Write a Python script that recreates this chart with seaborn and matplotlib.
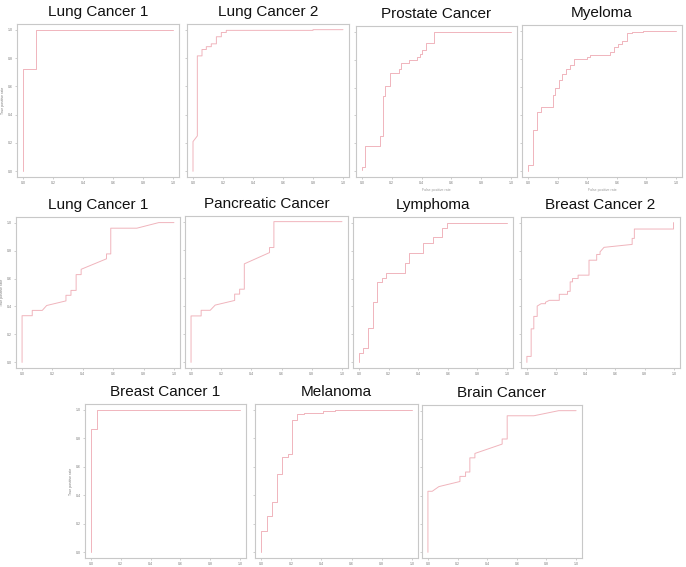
import matplotlib
matplotlib.use("Agg")
from matplotlib import pyplot as plt
import seaborn as sns
import pandas as pd

# ROC curve vertices (false positive rate, true positive rate)
titles = ["Lung Cancer 1", "Lung Cancer 2", "Prostate Cancer", "Myeloma",
          "Lung Cancer 1", "Pancreatic Cancer", "Lymphoma", "Breast Cancer 2",
          "Breast Cancer 1", "Melanoma", "Brain Cancer"]

lung1_fpr = [0, 0, 0.087, 0.087, 1]
lung1_tpr = [0, 0.72, 0.72, 1.0, 1.0]

lung2_fpr = [0, 0, 0.029, 0.029, 0.06, 0.06, 0.089, 0.089, 0.122, 0.122, 0.156, 0.156,
             0.189, 0.189, 0.222, 0.222, 0.8, 0.8, 1]
lung2_tpr = [0, 0.21, 0.25, 0.815, 0.815, 0.86, 0.86, 0.88, 0.88, 0.90, 0.90, 0.95,
             0.95, 0.98, 0.98, 0.995, 0.995, 1.0, 1.0]

prostate_fpr = [0, 0, 0.022, 0.022, 0.124, 0.124, 0.139, 0.139, 0.157, 0.157, 0.191, 0.191,
                0.247, 0.247, 0.265, 0.265, 0.315, 0.315, 0.371, 0.371, 0.387, 0.387,
                0.404, 0.404, 0.427, 0.427, 0.483, 0.483, 1]
prostate_tpr = [0.012, 0.031, 0.031, 0.185, 0.185, 0.252, 0.252, 0.54, 0.54, 0.61, 0.61, 0.707,
                0.707, 0.73, 0.73, 0.775, 0.775, 0.796, 0.796, 0.815, 0.815, 0.839,
                0.839, 0.868, 0.868, 0.916, 0.916, 1.0, 1.0]

myeloma_fpr = [0, 0, 0.031, 0.031, 0.061, 0.061, 0.088, 0.088, 0.169, 0.169, 0.184, 0.184,
               0.213, 0.213, 0.229, 0.229, 0.256, 0.256, 0.285, 0.285, 0.308, 0.308,
               0.398, 0.398, 0.42, 0.42, 0.555, 0.555, 0.584, 0.584, 0.611, 0.611,
               0.638, 0.638, 0.667, 0.667, 0.701, 0.701, 0.78, 0.78, 1]
myeloma_tpr = [0, 0.048, 0.048, 0.293, 0.293, 0.424, 0.424, 0.46, 0.46, 0.544, 0.544, 0.595,
               0.595, 0.652, 0.652, 0.695, 0.695, 0.727, 0.727, 0.755, 0.755, 0.796,
               0.796, 0.81, 0.81, 0.827, 0.827, 0.847, 0.847, 0.887, 0.887, 0.906,
               0.906, 0.923, 0.923, 0.983, 0.983, 0.99, 0.99, 1.0, 1.0]

lung1b_fpr = [0, 0, 0.067, 0.067, 0.133, 0.162, 0.289, 0.289, 0.322, 0.322, 0.356, 0.356,
              0.389, 0.389, 0.556, 0.556, 0.584, 0.584, 0.756, 0.9, 1]
lung1b_tpr = [0, 0.334, 0.334, 0.372, 0.372, 0.407, 0.44, 0.48, 0.48, 0.515, 0.515, 0.628,
              0.628, 0.666, 0.741, 0.776, 0.776, 0.96, 0.96, 1.0, 1.0]

pancreatic_fpr = [0, 0, 0.067, 0.067, 0.127, 0.16, 0.289, 0.289, 0.322, 0.322, 0.353, 0.353,
                  0.52, 0.52, 0.549, 0.549, 1]
pancreatic_tpr = [0, 0.33, 0.33, 0.37, 0.37, 0.407, 0.44, 0.485, 0.485, 0.52, 0.52, 0.70,
                  0.78, 0.816, 0.816, 1.0, 1.0]

lymphoma_fpr = [0, 0, 0.029, 0.029, 0.061, 0.061, 0.094, 0.094, 0.124, 0.124, 0.157, 0.157,
                0.184, 0.184, 0.31, 0.31, 0.337, 0.337, 0.434, 0.434, 0.501, 0.501,
                0.562, 0.562, 0.596, 0.596, 1]
lymphoma_tpr = [0, 0.067, 0.067, 0.104, 0.104, 0.248, 0.248, 0.429, 0.429, 0.573, 0.573, 0.607,
                0.607, 0.643, 0.643, 0.711, 0.711, 0.783, 0.783, 0.855, 0.855, 0.896,
                0.896, 0.964, 0.964, 1.0, 1.0]

breast2_fpr = [0, 0, 0.029, 0.029, 0.047, 0.047, 0.07, 0.07, 0.097, 0.126, 0.126, 0.153,
               0.22, 0.22, 0.276, 0.276, 0.294, 0.294, 0.31, 0.31, 0.348, 0.348,
               0.422, 0.422, 0.474, 0.474, 0.497, 0.497, 0.524, 0.715, 0.715, 0.73,
               0.73, 0.996, 0.996]
breast2_tpr = [0, 0.043, 0.043, 0.24, 0.24, 0.329, 0.329, 0.403, 0.42, 0.42, 0.43, 0.444,
               0.444, 0.487, 0.487, 0.508, 0.508, 0.576, 0.576, 0.6, 0.6, 0.624,
               0.624, 0.731, 0.731, 0.772, 0.772, 0.791, 0.823, 0.844, 0.887, 0.887,
               0.954, 0.954, 1.0]

breast1_fpr = [0, 0, 0.038, 0.038, 1]
breast1_tpr = [0, 0.866, 0.866, 1.0, 1.0]

melanoma_fpr = [0, 0, 0.04, 0.04, 0.073, 0.073, 0.106, 0.106, 0.139, 0.139, 0.177, 0.177,
                0.206, 0.206, 0.239, 0.239, 0.283, 0.283, 0.409, 0.409, 0.487, 0.487, 1]
melanoma_tpr = [0, 0.148, 0.148, 0.252, 0.252, 0.353, 0.353, 0.546, 0.546, 0.671, 0.671, 0.687,
                0.687, 0.929, 0.929, 0.969, 0.969, 0.98, 0.98, 0.988, 0.988, 0.998, 0.998]

brain_fpr = [0, 0, 0.029, 0.074, 0.216, 0.216, 0.254, 0.254, 0.283, 0.283, 0.317, 0.317,
             0.501, 0.501, 0.535, 0.535, 0.715, 0.883, 1]
brain_tpr = [0, 0.431, 0.431, 0.464, 0.5, 0.536, 0.536, 0.567, 0.567, 0.667, 0.667, 0.698,
             0.764, 0.8, 0.8, 0.964, 0.964, 1.0, 1.0]

curves = [(lung1_fpr, lung1_tpr), (lung2_fpr, lung2_tpr), (prostate_fpr, prostate_tpr),
          (myeloma_fpr, myeloma_tpr), (lung1b_fpr, lung1b_tpr), (pancreatic_fpr, pancreatic_tpr),
          (lymphoma_fpr, lymphoma_tpr), (breast2_fpr, breast2_tpr), (breast1_fpr, breast1_tpr),
          (melanoma_fpr, melanoma_tpr), (brain_fpr, brain_tpr)]

# panel boxes in pixels: left, right, top, bottom
boxes = [(17, 179, 24, 177), (187, 349, 24, 177), (356, 517, 26, 177), (522, 682, 25, 177),
         (16, 180, 217, 368), (185, 348, 216, 368), (353, 513, 217, 368), (521, 680, 217, 368),
         (85, 246, 404, 558), (255, 418, 404, 558), (422, 582, 405, 558)]

ylabel_panels = [0, 4, 8]
xlabel_panels = [2, 3]

sns.set_theme(style="white")
plt.rcParams['font.family'] = ['Liberation Sans', 'DejaVu Sans']

W, H = 686, 567
fig = plt.figure(figsize=(W / 100, H / 100), dpi=100)

ticks = [0.0, 0.2, 0.4, 0.6, 0.8, 1.0]
for i, (title, (fpr, tpr), box) in enumerate(zip(titles, curves, boxes)):
    l, r, t, b = box
    ax = fig.add_axes([l / W, 1 - b / H, (r - l) / W, (b - t) / H])
    df = pd.DataFrame({"fpr": fpr, "tpr": tpr})
    sns.lineplot(data=df, x="fpr", y="tpr", sort=False, estimator=None,
                 color="#f0b4bc", linewidth=0.7, ax=ax)
    ax.set_xlim(-0.04, 1.04)
    ax.set_ylim(-0.04, 1.04)
    ax.set_xticks(ticks)
    ax.set_yticks(ticks)
    ax.set_xticklabels([f"{v:.1f}" for v in ticks])
    if i in ylabel_panels:
        ax.set_yticklabels([f"{v:.1f}" for v in ticks])
        ax.set_ylabel("True positive rate", fontsize=2.5, color="#777777", labelpad=2)
    else:
        ax.set_yticklabels([])
        ax.set_ylabel("")
    if i in xlabel_panels:
        ax.set_xlabel("False positive rate", fontsize=2.5, color="#999999", labelpad=2)
    else:
        ax.set_xlabel("")
    ax.tick_params(axis="both", labelsize=2.5, labelcolor="#777777", length=1.5,
                   width=0.4, color="#aaaaaa", pad=1.5, bottom=True, left=True)
    for s in ax.spines.values():
        s.set_color("#c8c8c8")
        s.set_linewidth(0.8)
    ax.set_title(title, fontsize=11, color="#111111", pad=6)

fig.savefig("out.png", dpi=100)
